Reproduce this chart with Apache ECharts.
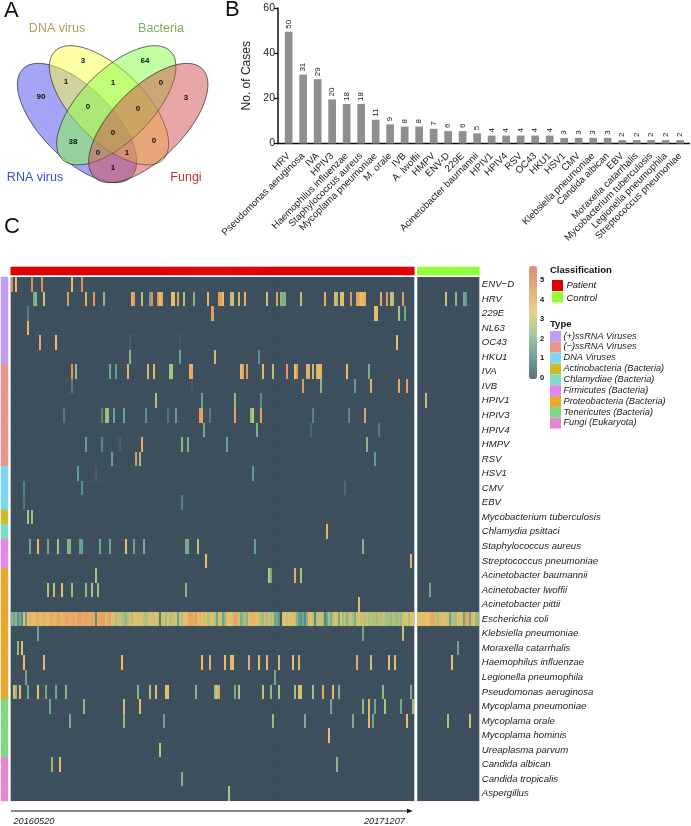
<!DOCTYPE html>
<html>
<head>
<meta charset="utf-8">
<title>Pathogen overview</title>
<style>
  html, body { margin: 0; padding: 0; background: #fff; }
  #chart { width: 691px; height: 826px; }
</style>
<script src="https://cdn.jsdelivr.net/npm/echarts@6/dist/echarts.min.js"></script>
</head>
<body>
<div id="chart"></div>
<script>
// panel A, counts per region of the venn
const vennSets = ['RNA virus', 'DNA virus', 'Bacteria', 'Fungi'];
const vennCounts = [90, 3, 64, 3, 1, 1, 0, 0, 0, 38, 0, 0, 0, 1, 1];

// panel B
const caseNames = ['HRV', 'Pseudomonas aeruginosa', 'IVA', 'HPIV3', 'Haemophilus influenzae', 'Staphylococcus aureus',
  'Mycoplama pneumoniae', 'M. orale', 'IVB', 'A. lwoffii', 'HMPV', 'ENV-D', '229E', 'Acinetobacter baumannii',
  'HPIV1', 'HPIV4', 'RSV', 'OC43', 'HKU1', 'HSV1', 'CMV', 'Klebsiella pneumoniae', 'Candida albican', 'EBV',
  'Moraxella catarrhalis', 'Mycobacterium tuberculosis', 'Legionella pneumophila', 'Streptococcus pneumoniae'];
const caseCounts = [50, 31, 29, 20, 18, 18, 11, 9, 8, 8, 7, 6, 6, 5, 4, 4, 4, 4, 4, 3, 3, 3, 3, 2, 2, 2, 2, 2];
// bar tops as they read against the axis, they sit a bit under the printed count
const caseBarHeights = [49.5, 30.5, 28.5, 19.5, 17.5, 17.5, 10.5, 8.5, 7.5, 7.5, 6.5, 5.5, 5.5, 4.5, 3.5, 3.5, 3.5, 3.5, 3.5, 2.5, 2.5, 2.5, 2.5, 1.5, 1.5, 1.5, 1.5, 1.5];
const caseTicks = [0, 20, 40, 60];

// panel C
const rowNames = ['ENV\u2212D', 'HRV', '229E', 'NL63', 'OC43', 'HKU1', 'IVA', 'IVB', 'HPIV1', 'HPIV3', 'HPIV4', 'HMPV', 'RSV',
  'HSV1', 'CMV', 'EBV', 'Mycobacterium tuberculosis', 'Chlamydia psittaci', 'Staphylococcus aureus',
  'Streptococcus pneumoniae', 'Acinetobacter baumannii', 'Acinetobacter lwoffii', 'Acinetobacter pittii',
  'Escherichia coli', 'Klebsiella pneumoniae', 'Moraxella catarrhalis', 'Haemophilus influenzae',
  'Legionella pneumophila', 'Pseudomonas aeruginosa', 'Mycoplama pneumoniae', 'Mycoplama orale',
  'Mycoplama hominis', 'Ureaplasma parvum', 'Candida albican', 'Candida tropicalis', 'Aspergillus'];
const typeNames = ['(+)ssRNA Viruses', '(\u2212)ssRNA Viruses', 'DNA Viruses', 'Actinobacteria (Bacteria)',
  'Chlamydiae (Bacteria)', 'Firmicutes (Bacteria)', 'Proteobacteria (Bacteria)', 'Tenericutes (Bacteria)', 'Fungi (Eukaryota)'];
const typeColors = ['#c19cf8', '#e8958a', '#7fd4f8', '#c9bb2c', '#7fdcc4', '#e387f0', '#e8a82c', '#7fd884', '#e487cc'];
// type index of every row
const rowTypes = [0, 0, 0, 0, 0, 0, 1, 1, 1, 1, 1, 1, 1, 2, 2, 2, 3, 4, 5, 5, 6, 6, 6, 6, 6, 6, 6, 6, 6, 7, 7, 7, 7, 8, 8, 8];
const classNames = ['Patient', 'Control'];
const classColors = ['#e00000', '#90ff38'];
const colorTicks = [0, 1, 2, 3, 4, 5];
const patientCount = 201;
const controlCount = 31;

// [sample, log reads] for the patient samples, one list per row
const envD = [[0, 5], [2, 3.6], [10, 5], [15, 5], [30, 3.6], [35, 5]];
const hrv = [[11, 1.5], [12, 1.9], [16, 3.1], [28, 4.6], [37, 4], [41, 4.6], [46, 2], [60, 4], [61, 4.5], [65, 2.7], [69, 1.5], [70, 5],
  [73, 4.6], [74, 3.6], [75, 4.1], [80, 3.3], [81, 3.3], [83, 4.3], [86, 2.5], [91, 1.8], [98, 3.8], [103, 4.5], [104, 4.4], [105, 3.5],
  [109, 2.6], [110, 3], [113, 4], [116, 3.8], [127, 3], [132, 4.5], [134, 2], [135, 1.6], [136, 1.8], [144, 2.7], [156, 4],
  [161, 3], [162, 2.6], [164, 3.3], [165, 3.3], [169, 4.7], [172, 4.3], [173, 4], [174, 3.5], [175, 3.7], [176, 4], [184, 4],
  [187, 4.6], [189, 3], [190, 2.4], [195, 4.5]];
const e229 = [[8, 0.7], [100, 4.5], [181, 3.3], [182, 3.3], [193, 2.5], [196, 1.5]];
const nl63 = [[8, 3.7]];
const oc43 = [[14, 4], [22, 3.5], [59, 0.3], [84, 0.2], [192, 3.6]];
const hku1 = [[59, 2], [84, 1.3], [101, 2.8], [123, 1]];
const iva = [[30, 4.7], [32, 2.2], [49, 1.4], [52, 1.2], [58, 3.9], [68, 2.7], [71, 3.7], [79, 2.4], [80, 2.4], [89, 4], [90, 4.1],
  [114, 3.6], [115, 4.3], [117, 4.6], [125, 3.7], [130, 2.6], [137, 4.6], [141, 3.5], [142, 4.6], [147, 4], [148, 4], [150, 2.8],
  [152, 4], [153, 3.6], [154, 3.9], [167, 3.5], [178, 1.6]];
const ivb = [[30, 0.7], [90, 0.2], [145, 4.6], [154, 1.8], [171, 1.2], [179, 3.8], [193, 4], [197, 4.4]];
const hpiv1 = [[72, 2.6], [95, 1.3], [111, 2.1], [124, 0.9]];
const hpiv3 = [[26, 0.7], [45, 0.8], [47, 2.2], [48, 2.2], [51, 1.4], [56, 1.3], [67, 1], [78, 0.6], [82, 1.2], [94, 4.5], [95, 4.2], [99, 0.7],
  [111, 4.2], [119, 2], [120, 3], [124, 4.2], [150, 0.8], [168, 0.9], [176, 4.3]];
const hpiv4 = [[96, 1.5], [122, 1.7], [149, 0.4], [183, 0.7]];
const hmpv = [[37, 1.2], [45, 0.9], [54, 0.3], [65, 4], [85, 1.9], [88, 1.7], [107, 1.3], [177, 1.9]];
const rsv = [[50, 1.3], [62, 4.6], [64, 2.2], [181, 1.2]];
const hsv1 = [[33, 1.2], [42, 0.3], [120, 1.2]];
const cmv = [[6, 0.8], [35, 1], [166, 0.4]];
const ebv = [[6, 0.6], [85, 0.8]];
const mtb = [[8, 2.6], [10, 2.2]];
const chlamydia = [[157, 3.8]];
const staph = [[9, 1.5], [13, 3.6], [18, 1.4], [23, 2.4], [28, 1.8], [29, 1.8], [34, 1.3], [35, 1.3], [44, 1.4], [49, 1.5], [57, 3.3], [61, 1.3],
  [66, 1.6], [87, 1.6], [88, 1.6], [93, 2.8], [121, 1.3], [175, 1.8]];
const strep = [[97, 3.5], [199, 3.7]];
const acinB = [[42, 2.6], [128, 3], [129, 1.5], [141, 4], [144, 2.5]];
const acinL = [[18, 2.5], [21, 2.7], [25, 3.4], [30, 2.2], [37, 2], [40, 2.6], [43, 2.2], [87, 2]];
const acinP = [[173, 3.2]];
const ecoli = [1.8, 1.5, 1.9, 1.0, 1.5, 0.9, 3.4, 1.2, 3.6, 3.9, 3.7, 3.4, 3.9, 4.1, 3.6, 3.7, 4.0, 3.8, 3.5, 3.9,
  4.1, 3.7, 3.9, 4.2, 4.0, 3.6, 3.8, 4.2, 4.1, 3.9, 4.0, 4.2, 3.8, 4.3, 4.4, 4.2, 4.0, 4.3, 4.1, 3.9,
  4.2, 4.0, 0.9, 3.9, 4.1, 4.3, 4.2, 3.8, 4.0, 4.2, 3.6, 3.2, 2.4, 2.8, 3.0, 2.7, 2.2, 2.0, 2.6, 3.1,
  2.4, 3.2, 3.4, 3.0, 3.6, 3.2, 2.6, 2.3, 3.0, 3.2, 3.2, 2.8, 3.4, 3.0, 0.7, 2.9, 3.2, 2.2, 3.3, 2.6,
  2.8, 3.0, 3.2, 1.3, 3.0, 2.7, 3.1, 3.4, 3.9, 4.2, 4.1, 3.9, 4.3, 3.6, 3.9, 3.4, 3.0, 3.3, 2.4, 3.0,
  3.2, 2.6, 1.4, 3.0, 3.0, 1.3, 2.0, 3.3, 3.3, 3.5, 3.0, 4.3, 4.0, 3.0, 1.6, 2.0, 2.5, 1.8, 3.6, 3.8,
  3.9, 3.7, 3.5, 3.0, 2.6, 2.2, 3.0, 2.4, 3.1, 2.5, 2.7, 1.3, 1.5, 1.0, 0.1, 3.2, 3.3, 3.0, 3.3, 3.2,
  3.3, 2.8, 1.8, 1.2, 1.0, 1.5, 0.9, 1.8, 3.2, 3.4, 2.8, 0.9, 2.7, 3.0, 2.9, 2.6, 0.8, 1.4, 2.3, 1.6,
  2.6, 3.2, 3.0, 1.5, 3.3, 2.2, 2.8, 1.9, 2.5, 3.0, 2.4, 1.6, 3.0, 3.1, 3.0, 2.9, 2.6, 3.0, 2.3, 2.8,
  2.4, 2.6, 2.2, 2.8, 2.5, 2.9, 2.6, 2.2, 2.5, 2.0, 2.6, 2.3, 2.1, 2.4, 2.2, 3.0, 3.1, 3.3, 2.4, 3.2, 3.5];
const kleb = [[13, 1.3], [175, 1.3], [195, 3]];
const morax = [[3, 2], [5, 3.4]];
const haem = [[6, 3.6], [16, 3.8], [55, 3.4], [95, 3.5], [99, 4], [106, 3.4], [109, 3.8], [110, 3.6], [118, 4], [123, 3.2], [127, 3.7], [133, 3],
  [140, 3.3], [143, 3.8], [172, 4], [179, 3], [188, 3.3], [191, 3.5]];
const legion = [[7, 1.5], [131, 1.5]];
const pseudo = [[1, 3], [2, 2], [4, 3.6], [8, 1.5], [13, 3.5], [17, 1.5], [22, 1.4], [27, 1.9], [63, 1.8], [69, 2.4], [72, 3.6], [77, 3.2], [78, 3.2],
  [92, 1.9], [101, 2.2], [102, 3], [103, 4.2], [111, 1.5], [113, 2.7], [125, 2.8], [129, 2], [133, 2.6], [141, 2.3], [143, 3.2], [144, 3.2],
  [150, 2.3], [155, 4], [160, 3.7], [163, 1.8], [185, 2], [199, 1.6]];
const mycoP = [[19, 1.5], [36, 2], [56, 3], [64, 3.6], [159, 1.5], [175, 2], [178, 3.8], [181, 1.4], [186, 2.5], [194, 1.5], [200, 2.2]];
const mycoO = [[29, 1.7], [56, 2], [76, 1.3], [130, 2.1], [146, 1.6], [170, 1.6], [178, 3.7], [180, 1.4], [197, 3.4]];
const mycoH = [[158, 3.5]];
const urea = [[74, 3]];
const candA = [[20, 2], [24, 3.6], [162, 1.9]];
const candT = [[85, 1.8]];
const asper = [[108, 2.5]];
const patientRows = [envD, hrv, e229, nl63, oc43, hku1, iva, ivb, hpiv1, hpiv3, hpiv4, hmpv, rsv, hsv1, cmv, ebv, mtb, chlamydia,
  staph, strep, acinB, acinL, acinP, ecoli.map((v, i) => [i, v]), kleb, morax, haem, legion, pseudo, mycoP, mycoO, mycoH, urea, candA, candT, asper];

const ecoliControl = [3.5, 3.6, 3.4, 3.7, 3.5, 3.4, 3.7, 4.2, 4.0, 3.8, 2.4, 3.2, 3.1, 3.3, 3.2, 3.0, 1.3, 2.4, 2.6, 2.3, 3.4, 3.3, 3.1, 1.3, 4.2, 4.0, 1.4, 3.7, 3.2, 2.2, 2.1];
// [row, sample, log reads] for the controls, E. coli comes from its own list
const controlHits = [[1, 14, 3], [1, 19, 2], [1, 23, 1.4], [1, 24, 1.2], [8, 4, 2.7], [21, 6, 1.5], [25, 20, 1.4], [26, 17, 3.5], [30, 15, 2.6], [30, 26, 3]];

// fixed drawing positions, not data
const vennSpots = [[41, 97], [83, 61], [145, 61], [186, 98], [66, 82], [113, 83], [161, 83], [88, 107], [138, 109], [73, 142], [113, 133], [154, 141], [98, 153], [127, 153], [113, 168]];
const heatTop = 277, heatHeight = 524;

// only non zero cells are drawn, the grid background is the zero colour
const patientCells = [];
patientRows.forEach((list, r) => list.forEach(c => patientCells.push([c[0], r, c[1]])));
const controlCells = controlHits.map(c => [c[1], c[0], c[2]]);
ecoliControl.forEach((v, i) => controlCells.push([i, 23, v]));

const indexNames = n => Array.from({ length: n }, (_, i) => String(i));
const plainAxis = (type, data, gridIndex, more) => Object.assign({
  type: type, data: data, gridIndex: gridIndex, axisLine: { show: false }, axisTick: { show: false },
  axisLabel: { show: false }, splitLine: { show: false }
}, more);
const cellLines = { show: true, interval: 0, lineStyle: { color: 'rgba(125,145,155,0.14)', width: 0.5 } };

// heatmap series rounds every cell up to 3px here, so the 2px cells go through custom
function renderCell(params, api) {
  const p = api.coord([api.value(0), api.value(1)]);
  const s = api.size([1, 1]);
  const x0 = Math.round(p[0] - s[0] / 2), x1 = Math.round(p[0] + s[0] / 2);
  const y0 = Math.round(p[1] - s[1] / 2), y1 = Math.round(p[1] + s[1] / 2);
  return {
    type: 'rect',
    shape: { x: x0, y: y0, width: x1 - x0, height: y1 - y0 },
    style: { fill: api.visual('color') }
  };
}

const txt = (text, x, y, font, fill, more) => ({
  type: 'text', x: x, y: y, silent: true,
  style: Object.assign({ text: text, font: font, fill: fill || '#111', textVerticalAlign: 'middle' }, more)
});

const graphics = [];
// venn ellipses: blue, yellow, green, red
[
  { x: 77, y: 123, rot: -Math.PI / 4, fill: 'rgba(75,75,235,0.5)' },
  { x: 109, y: 105.3, rot: -Math.PI / 4, fill: 'rgba(255,255,77,0.5)' },
  { x: 116.3, y: 105.3, rot: Math.PI / 4, fill: 'rgba(133,255,71,0.5)' },
  { x: 148.3, y: 123, rot: Math.PI / 4, fill: 'rgba(209,77,77,0.5)' }
].forEach(e => {
  graphics.push({
    type: 'ellipse', x: e.x, y: e.y, rotation: e.rot, silent: true,
    shape: { cx: 0, cy: 0, rx: 76.5, ry: 35.5 },
    style: { fill: e.fill, stroke: '#333', lineWidth: 0.7 }
  });
});
vennCounts.forEach((v, i) => {
  graphics.push(txt(String(v), vennSpots[i][0], vennSpots[i][1], 'bold 8px "Liberation Sans"', '#111', { textAlign: 'center' }));
});
graphics.push(txt(vennSets[0], 35, 178, '12.5px "Liberation Sans"', '#3a4fd6', { textAlign: 'center' }));
graphics.push(txt(vennSets[1], 57, 29, '12.5px "Liberation Sans"', '#b39a5e', { textAlign: 'center' }));
graphics.push(txt(vennSets[2], 161, 29, '12.5px "Liberation Sans"', '#7fae55', { textAlign: 'center' }));
graphics.push(txt(vennSets[3], 186, 178, '12.5px "Liberation Sans"', '#c8302c', { textAlign: 'center' }));

// panel letters
graphics.push(txt('A', 4, 11, '22px "Liberation Sans"', '#111'));
graphics.push(txt('B', 225, 10, '22px "Liberation Sans"', '#111'));
graphics.push(txt('C', 4, 227, '22px "Liberation Sans"', '#111'));

// axis line of panel B runs past the first and last band
graphics.push({ type: 'line', silent: true, shape: { x1: 277.3, y1: 143.5, x2: 690, y2: 143.5 }, style: { stroke: '#111', lineWidth: 1.5 } });

// colorbar tick labels, 19.6px per unit up from the bar bottom
colorTicks.forEach(t => {
  graphics.push(txt(String(t), 540, 378 - t * 19.6, 'bold 7.5px "Liberation Sans"', '#111'));
});

// classification legend
graphics.push(txt('Classification', 550, 270, 'bold 9.5px "Liberation Sans"', '#111'));
classNames.forEach((name, i) => {
  graphics.push({ type: 'rect', silent: true, shape: { x: 552, y: 280 + i * 11.5, width: 11, height: 11 }, style: { fill: classColors[i] } });
  graphics.push(txt(name, 566.5, 285.5 + i * 12.5, 'italic 9.5px "Liberation Sans"', '#111'));
});

// type legend
graphics.push(txt('Type', 550, 324, 'bold 9.5px "Liberation Sans"', '#111'));
typeNames.forEach((name, i) => {
  graphics.push({ type: 'rect', silent: true, shape: { x: 550, y: 331 + i * 10.85, width: 11, height: 10.8 }, style: { fill: typeColors[i] } });
  graphics.push(txt(name, 563.5, 336 + i * 10.85, 'italic 9.2px "Liberation Sans"', '#222'));
});

// time arrow under the heatmap
graphics.push({ type: 'line', silent: true, shape: { x1: 11, y1: 811, x2: 408, y2: 811 }, style: { stroke: '#111', lineWidth: 1 } });
graphics.push({ type: 'polygon', silent: true, shape: { points: [[407, 808.7], [412.7, 811], [407, 813.3]] }, style: { fill: '#111' } });
graphics.push(txt('20160520', 13.5, 821, 'italic 9.2px "Liberation Sans"', '#222'));
graphics.push(txt('20171207', 364, 821, 'italic 9.2px "Liberation Sans"', '#222'));

const zeroColor = '#3b4d5b';
const option = {
  animation: false,
  backgroundColor: '#fff',
  textStyle: { fontFamily: '"Liberation Sans", Arial, sans-serif' },
  graphic: { elements: graphics },
  visualMap: {
    type: 'continuous',
    seriesIndex: [1, 2],
    dimension: 2,
    min: 0,
    max: 5.75,
    left: 529,
    top: 266,
    padding: 0,
    itemWidth: 8,
    itemHeight: 113,
    showLabel: false,
    calculable: false,
    hoverLink: false,
    inRange: { color: [zeroColor, '#5f9e92', '#a5bf80', '#e8c069', '#e2975f', '#d8785c'] },
    controller: { inRange: { color: ['#5e7079', '#6fa39c', '#a9c8a4', '#ead08c', '#e3ac82', '#d9937a'] } }
  },
  grid: [
    { left: 281.4, top: 8, width: 406, height: 135.5 },
    { left: 10.7, top: heatTop, width: 403.6, height: heatHeight, show: true, backgroundColor: zeroColor, borderWidth: 0 },
    { left: 417.3, top: heatTop, width: 62, height: heatHeight, show: true, backgroundColor: zeroColor, borderWidth: 0 },
    { left: 10.7, top: 267, width: 403.6, height: 8 },
    { left: 417.3, top: 267, width: 62, height: 8 },
    { left: 1, top: heatTop, width: 7, height: heatHeight }
  ],
  xAxis: [
    {
      type: 'category', gridIndex: 0, data: caseNames,
      axisLine: { show: false },
      axisTick: { alignWithLabel: true, length: 4, lineStyle: { color: '#111', width: 1.3 } },
      axisLabel: { interval: 0, rotate: 45, fontSize: 9.7, color: '#222', margin: 11 }
    },
    plainAxis('category', indexNames(patientCount), 1, { splitLine: cellLines }),
    plainAxis('category', indexNames(controlCount), 2, { splitLine: cellLines }),
    plainAxis('category', indexNames(patientCount), 3),
    plainAxis('category', indexNames(controlCount), 4),
    plainAxis('category', ['type'], 5)
  ],
  yAxis: [
    {
      type: 'value', gridIndex: 0, min: caseTicks[0], max: caseTicks[3], interval: 20, offset: 3.4,
      name: 'No. of Cases', nameLocation: 'middle', nameGap: 19,
      nameTextStyle: { fontSize: 12, color: '#222' },
      axisLine: { show: true, lineStyle: { color: '#111', width: 1.5 } },
      axisTick: { show: true, length: 4, lineStyle: { color: '#111', width: 1.3 } },
      axisLabel: { fontSize: 10.5, color: '#222', margin: 3 },
      splitLine: { show: false }
    },
    plainAxis('category', rowNames, 1, { inverse: true, splitLine: cellLines }),
    plainAxis('category', rowNames, 2, {
      inverse: true, position: 'right', splitLine: cellLines,
      axisLabel: { show: true, interval: 0, fontStyle: 'italic', fontSize: 9.6, color: '#222', margin: 2.5 }
    }),
    plainAxis('category', ['class'], 3),
    plainAxis('category', ['class'], 4),
    plainAxis('category', rowNames, 5, { inverse: true })
  ],
  series: [
    {
      type: 'bar', xAxisIndex: 0, yAxisIndex: 0, data: caseBarHeights, barWidth: 7.7, silent: true,
      itemStyle: { color: '#8f8f8f' },
      label: {
        show: true, position: 'top', rotate: 90, align: 'left', verticalAlign: 'middle', distance: 3,
        fontSize: 8, color: '#222', formatter: p => String(caseCounts[p.dataIndex])
      }
    },
    {
      type: 'custom', xAxisIndex: 1, yAxisIndex: 1, data: patientCells, silent: true, progressive: 0,
      encode: { x: 0, y: 1 }, renderItem: renderCell
    },
    {
      type: 'custom', xAxisIndex: 2, yAxisIndex: 2, data: controlCells, silent: true, progressive: 0,
      encode: { x: 0, y: 1 }, renderItem: renderCell
    },
    {
      type: 'heatmap', xAxisIndex: 3, yAxisIndex: 3, silent: true, progressive: 0,
      data: indexNames(patientCount).map((_, i) => [i, 0, 0]),
      itemStyle: { color: classColors[0] }
    },
    {
      type: 'heatmap', xAxisIndex: 4, yAxisIndex: 4, silent: true, progressive: 0,
      data: indexNames(controlCount).map((_, i) => [i, 0, 0]),
      itemStyle: { color: classColors[1] }
    },
    {
      type: 'heatmap', xAxisIndex: 5, yAxisIndex: 5, silent: true, progressive: 0,
      data: rowTypes.map((t, r) => ({ value: [0, r, t], itemStyle: { color: typeColors[t] } }))
    }
  ]
};

const chart = echarts.init(document.getElementById('chart'), null, { renderer: 'canvas' });
chart.setOption(option);
</script>
</body>
</html>
